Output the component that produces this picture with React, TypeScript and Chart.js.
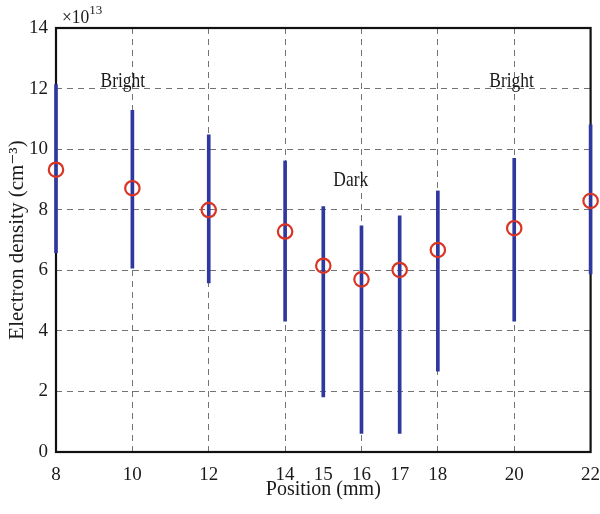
import React, { useEffect, useRef } from "react";
import { Chart, registerables } from "chart.js";

Chart.register(...registerables);

// Data (electron density in units of 1e13 cm^-3)
const positions = [8, 10, 12, 14, 15, 16, 17, 18, 20, 22];
const densityMean = [9.32, 8.71, 7.99, 7.28, 6.15, 5.7, 6.01, 6.67, 7.39, 8.29];
const densityHigh = [12.13, 11.28, 10.47, 9.61, 8.1, 7.47, 7.8, 8.62, 9.7, 10.8];
const densityLow = [6.58, 6.07, 5.58, 4.32, 1.82, 0.61, 0.61, 2.67, 4.32, 5.88];

const xTickValues = [8, 10, 12, 14, 15, 16, 17, 18, 20, 22];
const xGridValues = [10, 12, 14, 16, 18, 20];
const yGridValues = [2, 4, 6, 8, 10, 12];

const annotationTexts = ["Bright", "Dark", "Bright"];
const annotationX = [9.75, 15.72, 19.93];
const annotationY = [12.22, 8.96, 12.22];

const SERIF = "'Liberation Serif', 'DejaVu Serif', 'Times New Roman', serif";
const TEXT = "#1a1a1a";
const RED = "rgb(218, 52, 34)";
const BLUE = "rgb(46, 56, 158)";
const GRID = "#737373";

const boxPlugin = {
  id: "boxPlugin",
  beforeDatasetsDraw(chart: any) {
    const { ctx, chartArea } = chart;
    const { left, right, top, bottom } = chartArea;
    ctx.save();
    ctx.strokeStyle = "#111";
    ctx.lineWidth = 2.2;
    ctx.setLineDash([]);
    ctx.strokeRect(left, top, right - left, bottom - top);
    ctx.restore();
  },
  afterDatasetsDraw(chart: any) {
    const { ctx, chartArea, scales } = chart;
    ctx.save();
    ctx.fillStyle = TEXT;
    ctx.font = `21px ${SERIF}`;
    ctx.textAlign = "center";
    ctx.textBaseline = "middle";
    annotationTexts.forEach((t, i) => {
      const w = ctx.measureText(t).width * 0.83;
      ctx.fillText(t, scales.x.getPixelForValue(annotationX[i]), scales.y.getPixelForValue(annotationY[i]), w);
    });
    // exponent label
    ctx.textAlign = "left";
    ctx.textBaseline = "alphabetic";
    ctx.font = `19px ${SERIF}`;
    const base = "\u00d710";
    const bx = chartArea.left + 6;
    const by = chartArea.top - 5.5;
    const bw = ctx.measureText(base).width * 0.92;
    ctx.fillText(base, bx, by, bw);
    ctx.font = `13px ${SERIF}`;
    ctx.fillText("13", bx + bw, by - 9);
    ctx.restore();
  },
};

export default function App() {
  const canvasRef = useRef<HTMLCanvasElement | null>(null);

  useEffect(() => {
    const canvas = canvasRef.current;
    if (!canvas) return;
    const chart = new Chart(canvas, {
      type: "scatter",
      data: {
        datasets: [
          {
            type: "scatter",
            label: "Mean",
            data: positions.map((x, i) => ({ x, y: densityMean[i] })),
            pointStyle: "circle",
            pointRadius: 7.2,
            pointHoverRadius: 7.2,
            pointBorderWidth: 2.2,
            borderColor: RED,
            backgroundColor: "rgba(0,0,0,0)",
            clip: false,
            order: 0,
          } as any,
          {
            type: "bar",
            label: "Range",
            data: positions.map((x, i) => ({ x, y: [densityLow[i], densityHigh[i]] })),
            backgroundColor: BLUE,
            borderWidth: 0,
            barThickness: 3,
            grouped: false,
            clip: false,
            order: 1,
          } as any,
        ],
      },
      options: {
        responsive: false,
        animation: false,
        devicePixelRatio: 1,
        layout: { padding: { left: 0, top: 28, right: 8, bottom: 0 } },
        plugins: {
          legend: { display: false },
          tooltip: { enabled: false },
        },
        scales: {
          x: {
            type: "linear",
            min: 8,
            max: 22,
            offset: false,
            afterBuildTicks: (axis: any) => {
              axis.ticks = xTickValues.map((v) => ({ value: v }));
            },
            afterFit: (s: any) => {
              s.height = 62;
              s.paddingLeft = 0;
              s.paddingRight = 0;
            },
            ticks: {
              autoSkip: false,
              maxRotation: 0,
              padding: 12,
              color: TEXT,
              font: { family: SERIF, size: 19 },
              callback: (v: any) => String(v),
            },
            grid: {
              offset: false,
              drawTicks: false,
              lineWidth: 1,
              color: (c: any) =>
                c.tick && xGridValues.includes(c.tick.value) ? GRID : "rgba(0,0,0,0)",
              borderDash: [6, 5],
            } as any,
            border: { display: false, dash: [6, 5] },
            title: {
              display: true,
              text: "Position (mm)",
              color: TEXT,
              font: { family: SERIF, size: 20 },
              padding: { top: 0, bottom: 12 },
            },
          },
          y: {
            type: "linear",
            min: 0,
            max: 14,
            afterFit: (s: any) => {
              s.width = 56;
              s.paddingTop = 0;
              s.paddingBottom = 0;
            },
            ticks: {
              stepSize: 2,
              padding: 8,
              color: TEXT,
              font: { family: SERIF, size: 19 },
            },
            grid: {
              drawTicks: false,
              lineWidth: 1,
              color: (c: any) =>
                c.tick && yGridValues.includes(c.tick.value) ? GRID : "rgba(0,0,0,0)",
              borderDash: [6, 5],
            } as any,
            border: { display: false, dash: [6, 5] },
            title: {
              display: true,
              text: "Electron density (cm\u207b\u00b3)",
              color: TEXT,
              font: { family: SERIF, size: 21 },
              padding: { top: 5, bottom: 0 },
            },
          },
        },
      },
      plugins: [boxPlugin],
    } as any);
    return () => chart.destroy();
  }, []);

  return (
    <div style={{ position: "fixed", left: 0, top: 0, width: 600, height: 514, background: "#fff" }}>
      <canvas ref={canvasRef} width={600} height={514} style={{ display: "block" }} />
    </div>
  );
}
